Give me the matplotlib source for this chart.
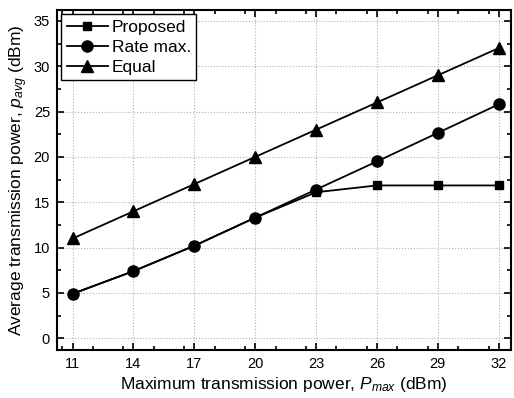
import matplotlib
matplotlib.use("Agg")
import matplotlib.pyplot as plt
from matplotlib.ticker import MultipleLocator

plt.rcParams['font.family'] = ['Liberation Sans', 'DejaVu Sans']
plt.rcParams['mathtext.fontset'] = 'custom'
plt.rcParams['mathtext.it'] = 'Liberation Sans:italic'
plt.rcParams['mathtext.rm'] = 'Liberation Sans'

pmax = [11, 14, 17, 20, 23, 26, 29, 32]
proposed = [4.9, 7.4, 10.2, 13.3, 16.1, 16.85, 16.85, 16.85]
rate_max = [4.9, 7.4, 10.2, 13.3, 16.4, 19.5, 22.65, 25.8]
equal = [11, 14, 17, 20, 23, 26, 29, 32]

fig = plt.figure(figsize=(5.14, 3.98), dpi=100)
ax = fig.add_axes([57/514, 1-350/398, (510.5-57)/514, (350-10)/398])

ax.plot(pmax, proposed, '-s', color='black', lw=1.3, ms=6, label='Proposed', zorder=3)
ax.plot(pmax, rate_max, '-o', color='black', lw=1.3, ms=8, label='Rate max.', zorder=3)
ax.plot(pmax, equal, '-^', color='black', lw=1.3, ms=8, label='Equal', zorder=3)

ax.set_xlim(10.23, 32.58)
ax.set_ylim(-1.3, 36.2)
ax.set_xticks(pmax)
ax.xaxis.set_minor_locator(MultipleLocator(1.5))
ax.yaxis.set_major_locator(MultipleLocator(5))
ax.yaxis.set_minor_locator(MultipleLocator(2.5))
ax.tick_params(which='both', direction='in', top=True, right=True, labelsize=10.5, width=1.2)
ax.tick_params(which='major', length=5, pad=5)
ax.tick_params(which='minor', length=3)
for s in ax.spines.values():
    s.set_linewidth(1.5)
ax.grid(True, which='major', linestyle=':', color='#b0b0b0', linewidth=0.8)

ax.set_xlabel('Maximum transmission power, $P_{max}$ (dBm)', fontsize=12.5, labelpad=3)
ax.set_ylabel('Average transmission power, $p_{avg}$ (dBm)', fontsize=12.5, labelpad=3)

leg = ax.legend(loc='upper left', fontsize=12.5, frameon=True, fancybox=False,
                edgecolor='black', borderaxespad=0.25, handlelength=2.4,
                handletextpad=0.2, borderpad=0.3, labelspacing=0.28)
leg.get_frame().set_linewidth(1.0)
leg.get_frame().set_alpha(1)

fig.savefig('out.png', dpi=100)
